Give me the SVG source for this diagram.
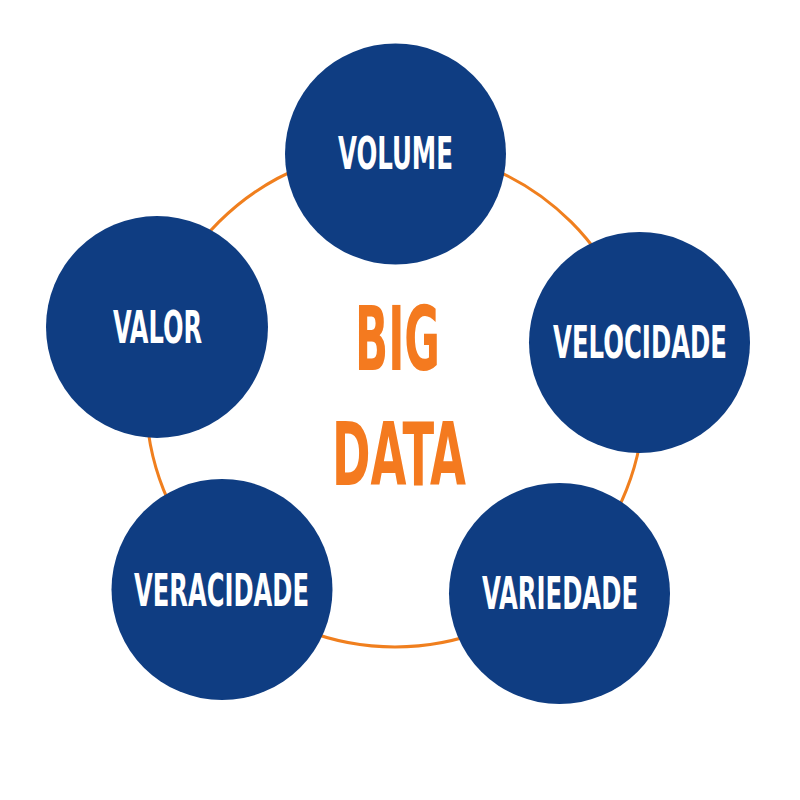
<svg xmlns="http://www.w3.org/2000/svg" width="800" height="800" viewBox="0 0 800 800">
<style>
.node{fill:#0f3d82}
.lbl{fill:#ffffff;font-family:"Liberation Sans Narrow","DejaVu Sans Condensed","Liberation Sans",sans-serif;font-weight:bold;font-size:45px}
.big{fill:#f47a1f;font-family:"Liberation Sans Narrow","DejaVu Sans Condensed","Liberation Sans",sans-serif;font-weight:bold}
.ring{fill:none;stroke:#f07f1e;stroke-width:3}
</style>
<rect width="800" height="800" fill="#ffffff"/>
<g id="connectors">
<circle class="ring" cx="395" cy="398" r="249"/>
</g>
<g id="center">
<text class="big" x="355" y="370" font-size="89" textLength="85" lengthAdjust="spacingAndGlyphs">BIG</text>
<text class="big" x="332" y="485" font-size="87" textLength="134" lengthAdjust="spacingAndGlyphs">DATA</text>
</g>
<g id="volume">
<circle class="node" cx="395.5" cy="154" r="110.5"/>
<text class="lbl" x="338" y="169" textLength="115" lengthAdjust="spacingAndGlyphs">VOLUME</text>
</g>
<g id="velocidade">
<circle class="node" cx="639.5" cy="342.5" r="110.5"/>
<text class="lbl" x="553" y="358" textLength="174" lengthAdjust="spacingAndGlyphs">VELOCIDADE</text>
</g>
<g id="variedade">
<circle class="node" cx="559.5" cy="593.5" r="110.5"/>
<text class="lbl" x="482" y="609" textLength="156" lengthAdjust="spacingAndGlyphs">VARIEDADE</text>
</g>
<g id="veracidade">
<circle class="node" cx="222" cy="589.5" r="110.5"/>
<text class="lbl" x="134" y="606" textLength="175" lengthAdjust="spacingAndGlyphs">VERACIDADE</text>
</g>
<g id="valor">
<circle class="node" cx="157" cy="327" r="111"/>
<text class="lbl" x="113" y="343" textLength="89" lengthAdjust="spacingAndGlyphs">VALOR</text>
</g>
</svg>
